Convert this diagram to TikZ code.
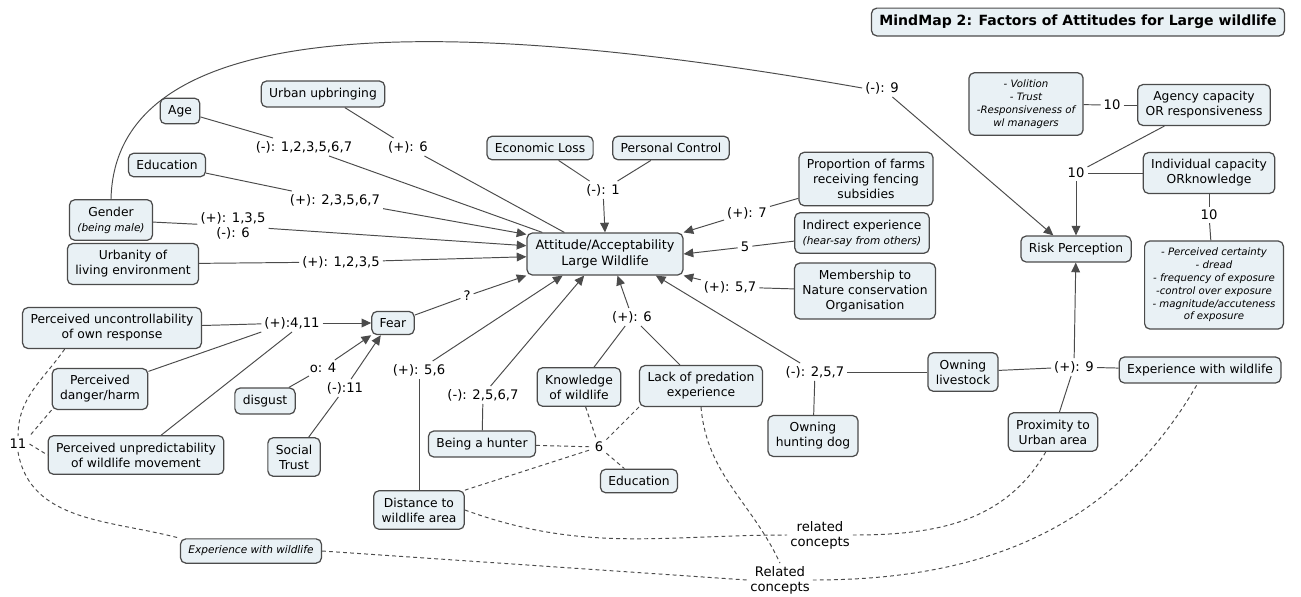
\documentclass[tikz,border=0pt]{standalone}
\usepackage{fontspec}
\setmainfont{DejaVu Sans}
\usepackage{xcolor}
\usepackage{tikz}
\usetikzlibrary{arrows.meta}

\definecolor{cmfill}{RGB}{233,241,245}
\definecolor{cmline}{RGB}{75,75,75}

\tikzset{
  concept/.style={fill=cmfill,draw=cmline,line width=0.7pt,rounded corners=3pt,align=center,
    inner xsep=4.5pt,inner ysep=4pt,font=\fontsize{7}{8.5}\selectfont},
  lnk/.style={inner sep=1.5pt,align=center,font=\fontsize{7.5}{8.5}\selectfont},
  rel/.style={dash pattern=on 2.2pt off 1.8pt},
  smallit/.style={font=\fontsize{5.8}{7.3}\selectfont\itshape},
}

\begin{document}
\begin{tikzpicture}[x=0.02cm,y=-0.02cm,line width=0.55pt,draw=cmline,
  >={Triangle[length=5.5pt,width=5pt]}]
\useasboundingbox (0,0) rectangle (1301,596);

% concepts
\node[concept,font=\fontsize{8}{9}\selectfont\bfseries] (title) at (1078,22) {MindMap 2: Factors of Attitudes for Large wildlife};
\node[concept,minimum width=3.12cm,font=\fontsize{7.3}{8.8}\selectfont] (att) at (605,254) {Attitude/Acceptability\\Large Wildlife};
\node[concept] (age) at (180,111) {Age};
\node[concept] (urbup) at (323,94) {Urban upbringing};
\node[concept] (edu) at (167,165) {Education};
\node[concept] (gender) at (111,220) {Gender\\{\fontsize{6}{7}\selectfont\itshape (being male)}};
\node[concept] (urbanity) at (133,264) {Urbanity of\\living environment};
\node[concept] (econ) at (540,148) {Economic Loss};
\node[concept] (pctrl) at (671,148) {Personal Control};
\node[concept] (farms) at (866,179) {Proportion of farms\\receiving fencing\\subsidies};
\node[concept] (indirect) at (862,233) {Indirect experience\\{\fontsize{6}{7}\selectfont\itshape (hear-say from others)}};
\node[concept] (member) at (865,291) {Membership to\\Nature conservation\\Organisation};
\node[concept] (fear) at (393,323) {Fear};
\node[concept] (uncontr) at (112,328) {Perceived uncontrollability\\of own response};
\node[concept] (danger) at (100,389) {Perceived\\danger/harm};
\node[concept] (unpred) at (136,455) {Perceived unpredictability\\of wildlife movement};
\node[concept] (disgust) at (265,401) {disgust};
\node[concept] (strust) at (294,457) {Social\\Trust};
\node[concept,font=\fontsize{6}{7}\selectfont\itshape] (expL) at (251,551) {Experience with wildlife};
\node[concept] (dist) at (419,510) {Distance to\\wildlife area};
\node[concept] (know) at (579,387) {Knowledge\\of wildlife};
\node[concept] (lack) at (701,386) {Lack of predation\\experience};
\node[concept] (dog) at (813,436) {Owning\\hunting dog};
\node[concept] (hunter) at (482,444) {Being a hunter};
\node[concept] (eduB) at (639,481) {Education};
\node[concept] (livestock) at (963,372) {Owning\\livestock};
\node[concept] (expR) at (1200,370) {Experience with wildlife};
\node[concept] (prox) at (1053,432) {Proximity to\\Urban area};
\node[concept,smallit] (volition) at (1026,104) {- Volition\\- Trust\\-Responsiveness of\\wl managers};
\node[concept] (agency) at (1204,105) {Agency capacity\\OR responsiveness};
\node[concept] (indiv) at (1209,173) {Individual capacity\\ORknowledge};
\node[concept] (risk) at (1076,249) {Risk Perception};
\node[concept,smallit] (certain) at (1214,285) {- Perceived certainty\\- dread\\- frequency of exposure\\-control over exposure\\- magnitude/accuteness\\of exposure};

% linking phrases
\node[lnk] (lAge) at (304,147) {(-): 1,2,3,5,6,7};
\node[lnk] (lUrb) at (408,147) {(+): 6};
\node[lnk] (lEdu) at (335,200) {(+): 2,3,5,6,7};
\node[lnk] (lGen) at (233,226) {(+): 1,3,5\\(-): 6};
\node[lnk] (lUrbty) at (341,262) {(+): 1,2,3,5};
\node[lnk] (lEcon) at (603,190) {(-): 1};
\node[lnk] (lFarms) at (747,213) {(+): 7};
\node[lnk] (lInd) at (745,247) {5};
\node[lnk] (lMem) at (730,287) {(+): 5,7};
\node[lnk] (lFear) at (292,323) {(+):4,11};
\node[lnk] (lDisg) at (323,368) {o: 4};
\node[lnk] (lTrust) at (345,388) {(-):11};
\node[lnk] (l11) at (18,444) {11};
\node[lnk] (lQ) at (467,296) {?};
\node[lnk] (lDist) at (419,370) {(+): 5,6};
\node[lnk] (lHunt) at (483,395) {(-): 2,5,6,7};
\node[lnk] (lKnow) at (632,317) {(+): 6};
\node[lnk] (lDog) at (815,372) {(-): 2,5,7};
\node[lnk] (l6) at (599,447) {6};
\node[lnk] (lRelA) at (820,535) {related\\concepts};
\node[lnk] (lRelB) at (780,580) {Related\\concepts};
\node[lnk] (lNine) at (1074,367) {(+): 9};
\node[lnk] (lRisk) at (882,88) {(-): 9};
\node[lnk] (lTenA) at (1112,105) {10};
\node[lnk] (lTenB) at (1076,173) {10};
\node[lnk] (lTenC) at (1209,215) {10};

% links into attitude
\draw (age) -- (lAge);
\draw (lAge) -- (att.161);
\draw (urbup) -- (lUrb);
\draw (lUrb) -- (att.152);
\draw (edu) -- (lEdu);
\draw[->] (lEdu) -- (att.166);
\draw (gender) -- (lGen);
\draw[->] (lGen) -- (att.174);
\draw (urbanity) -- (lUrbty);
\draw[->] (lUrbty) -- (att.182);
\draw (econ) -- (lEcon);
\draw (pctrl) -- (lEcon);
\draw[->] (lEcon) -- (att.north);
\draw (farms) -- (lFarms);
\draw[->] (lFarms) -- (att.north east);
\draw (indirect) -- (lInd);
\draw[->] (lInd) -- (att.east);
\draw (member) -- (lMem);
\draw[->] (lMem) -- (att.south east);
\draw (fear) -- (lQ);
\draw[->] (lQ) -- (att.south west);
\draw (dist) -- (lDist);
\draw[->] (lDist) -- (att.207);
\draw (hunter) -- (lHunt);
\draw[->] (lHunt) -- (att.226);
\draw (know) -- (lKnow);
\draw (lack) -- (lKnow);
\draw[->] (lKnow) -- (att.300);
\draw (dog) -- (lDog);
\draw (livestock) -- (lDog);
\draw[->] (lDog) -- (att.337);

% links into fear
\draw (uncontr) -- (lFear);
\draw (danger.20) -- (lFear.south west);
\draw (unpred) -- (lFear.south);
\draw[->] (lFear) -- (fear);
\draw (disgust) -- (lDisg);
\draw[->] (lDisg) -- (fear.south west);
\draw (strust) -- (lTrust);
\draw[->] (lTrust) -- (fear.225);

% risk perception
\draw (gender.north) .. controls (115,20) and (420,10) .. (lRisk.west);
\draw[->] (lRisk) -- (risk.149);
\draw (volition) -- (lTenA);
\draw (lTenA) -- (agency);
\draw (agency) -- (lTenB);
\draw (indiv) -- (lTenB);
\draw[->] (lTenB) -- (risk);
\draw (indiv) -- (lTenC);
\draw (lTenC) -- (certain);
\draw (livestock) -- (lNine);
\draw (prox) -- (lNine);
\draw (expR) -- (lNine);
\draw[->] (lNine) -- (risk);

% related concepts
\draw[rel] (uncontr.204) to[out=235,in=90] (l11.north);
\draw[rel] (l11.south) to[out=-80,in=165] (expL.north west);
\draw[rel] (danger.south west) -- (l11.north east);
\draw[rel] (l11.east) -- (unpred.west);
\draw[rel] (expL.east) -- (lRelB.west);
\draw[rel] (lRelB.east) to[out=0,in=240] (expR.260);
\draw[rel] (lack.south) to[out=-85,in=115] (lRelB.north);
\draw[rel] (dist.east) to[out=-20,in=180] (lRelA.west);
\draw[rel] (lRelA.east) to[out=0,in=240] (prox.250);
\draw[rel] (dist.north east) -- (l6);
\draw[rel] (hunter) -- (l6);
\draw[rel] (know) -- (l6);
\draw[rel] (lack.south west) -- (l6);
\draw[rel] (l6) -- (eduB);
\end{tikzpicture}
\end{document}
